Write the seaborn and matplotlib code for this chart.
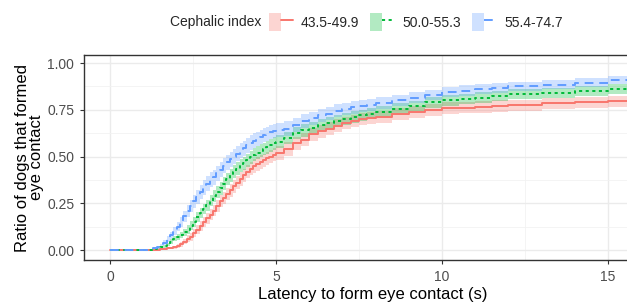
import numpy as np
import pandas as pd
import matplotlib
matplotlib.use("Agg")
import matplotlib.pyplot as plt
import seaborn as sns
from matplotlib.patches import Patch
from matplotlib.lines import Line2D
from matplotlib.legend_handler import HandlerTuple

# Data (cumulative ratio of dogs forming eye contact)
groups = ["43.5-49.9", "50.0-55.3", "55.4-74.7"]
time_s = [0, 1.0,
          1.3, 1.4, 1.5, 1.6, 1.7, 1.8, 1.9, 2.0,
          2.1, 2.2, 2.3, 2.4, 2.5, 2.6, 2.7, 2.8, 2.9, 3.0,
          3.1, 3.2, 3.3, 3.4, 3.5, 3.6, 3.7, 3.8, 3.9, 4.0,
          4.1, 4.2, 4.3, 4.4, 4.5, 4.6, 4.7, 4.8, 4.9, 5.0,
          5.25, 5.5, 5.75, 6.0, 6.25, 6.5, 6.75, 7.0, 7.25, 7.5, 7.75, 8.0,
          8.5, 9.0, 9.5, 10.0, 10.5, 11.0, 11.5, 12.0,
          13.0, 14.0, 15.0, 15.8]
ratio_low = [0, 0,
             0, 0, 0.005, 0.005, 0.01, 0.01, 0.015, 0.02,
             0.03, 0.045, 0.06, 0.07, 0.09, 0.11, 0.13, 0.15, 0.17, 0.19,
             0.21, 0.235, 0.26, 0.28, 0.30, 0.32, 0.34, 0.36, 0.38, 0.40,
             0.42, 0.435, 0.45, 0.46, 0.47, 0.48, 0.49, 0.50, 0.51, 0.52,
             0.54, 0.57, 0.59, 0.62, 0.635, 0.65, 0.665, 0.68, 0.69, 0.70, 0.705, 0.71,
             0.73, 0.74, 0.75, 0.76, 0.762, 0.765, 0.77, 0.775,
             0.785, 0.79, 0.795, 0.81]
ratio_mid = [0, 0,
             0.005, 0.01, 0.015, 0.02, 0.03, 0.045, 0.06, 0.07,
             0.08, 0.095, 0.11, 0.13, 0.15, 0.175, 0.20, 0.22, 0.24, 0.265,
             0.29, 0.31, 0.33, 0.355, 0.38, 0.40, 0.42, 0.435, 0.45, 0.465,
             0.48, 0.495, 0.51, 0.52, 0.53, 0.54, 0.55, 0.56, 0.57, 0.58,
             0.60, 0.625, 0.64, 0.655, 0.67, 0.68, 0.69, 0.70, 0.71, 0.72, 0.73, 0.74,
             0.755, 0.77, 0.79, 0.80, 0.808, 0.815, 0.825, 0.835,
             0.84, 0.85, 0.86, 0.865]
ratio_high = [0, 0,
              0.01, 0.015, 0.025, 0.04, 0.06, 0.08, 0.10, 0.125,
              0.15, 0.18, 0.21, 0.235, 0.26, 0.285, 0.31, 0.335, 0.355, 0.375,
              0.39, 0.41, 0.43, 0.45, 0.47, 0.485, 0.50, 0.515, 0.53, 0.545,
              0.56, 0.575, 0.585, 0.595, 0.605, 0.615, 0.62, 0.63, 0.635, 0.64,
              0.65, 0.67, 0.69, 0.705, 0.72, 0.73, 0.745, 0.755, 0.763, 0.77, 0.778, 0.785,
              0.80, 0.815, 0.83, 0.845, 0.853, 0.86, 0.868, 0.875,
              0.885, 0.895, 0.91, 0.915]
# half-width of the confidence band
ci_low = [0, 0,
          0, 0, 0.003, 0.003, 0.005, 0.005, 0.008, 0.01,
          0.012, 0.015, 0.018, 0.02, 0.022, 0.024, 0.026, 0.027, 0.028, 0.029,
          0.03, 0.031, 0.032, 0.033, 0.034, 0.034, 0.035, 0.035, 0.036, 0.036,
          0.036, 0.036, 0.036, 0.036, 0.036, 0.036, 0.036, 0.036, 0.036, 0.036,
          0.036, 0.035, 0.035, 0.035, 0.035, 0.034, 0.034, 0.034, 0.034, 0.033, 0.033, 0.033,
          0.032, 0.032, 0.031, 0.031, 0.031, 0.03, 0.03, 0.03,
          0.03, 0.03, 0.03, 0.03]
ci_mid = [0, 0,
          0.003, 0.004, 0.006, 0.008, 0.01, 0.012, 0.014, 0.016,
          0.018, 0.02, 0.022, 0.024, 0.025, 0.026, 0.027, 0.028, 0.03, 0.031,
          0.032, 0.033, 0.033, 0.034, 0.034, 0.035, 0.035, 0.035, 0.035, 0.035,
          0.035, 0.035, 0.035, 0.035, 0.035, 0.034, 0.034, 0.034, 0.034, 0.034,
          0.034, 0.033, 0.033, 0.032, 0.032, 0.032, 0.031, 0.031, 0.031, 0.031, 0.03, 0.03,
          0.03, 0.029, 0.029, 0.028, 0.028, 0.028, 0.027, 0.027,
          0.027, 0.026, 0.026, 0.026]
ci_high = [0, 0,
           0.005, 0.007, 0.01, 0.013, 0.016, 0.019, 0.022, 0.025,
           0.027, 0.03, 0.032, 0.034, 0.035, 0.036, 0.037, 0.038, 0.039, 0.04,
           0.04, 0.04, 0.04, 0.04, 0.04, 0.04, 0.04, 0.04, 0.04, 0.04,
           0.04, 0.04, 0.039, 0.039, 0.039, 0.039, 0.038, 0.038, 0.038, 0.038,
           0.038, 0.037, 0.036, 0.035, 0.035, 0.034, 0.034, 0.033, 0.033, 0.032, 0.032, 0.031,
           0.03, 0.029, 0.028, 0.027, 0.027, 0.026, 0.026, 0.025,
           0.024, 0.023, 0.022, 0.022]

colors = {"43.5-49.9": "#F8766D", "50.0-55.3": "#00BA38", "55.4-74.7": "#619CFF"}
dashes = {"43.5-49.9": "", "50.0-55.3": (1.6, 1.8), "55.4-74.7": (4.5, 3)}

df = pd.concat([
    pd.DataFrame({"time": time_s, "ratio": r, "ci": c, "group": g})
    for g, r, c in zip(groups, [ratio_low, ratio_mid, ratio_high], [ci_low, ci_mid, ci_high])
])

sns.set_theme(style="white")
plt.rcParams["font.family"] = ["Liberation Sans", "DejaVu Sans"]

fig = plt.figure(figsize=(6.27, 3.03), dpi=100)
ax = fig.add_axes([84 / 627, 1 - 260 / 303, 577 / 627, 205 / 303])

for g in groups:
    d = df[df["group"] == g]
    ax.fill_between(d["time"], d["ratio"] - d["ci"], d["ratio"] + d["ci"],
                    step="post", color=colors[g], alpha=0.3, linewidth=0)

sns.lineplot(data=df, x="time", y="ratio", hue="group", style="group",
             palette=colors, dashes=dashes, drawstyle="steps-post",
             linewidth=1.4, legend=False, ax=ax, zorder=3)

ax.set_xlim(-0.79, 16.6)
ax.set_ylim(-0.053, 1.043)
ax.set_xticks([0, 5, 10, 15])
ax.set_xticks([2.5, 7.5, 12.5], minor=True)
ax.set_yticks([0, 0.25, 0.5, 0.75, 1.0])
ax.set_yticklabels(["0.00", "0.25", "0.50", "0.75", "1.00"])
ax.set_yticks([0.125, 0.375, 0.625, 0.875], minor=True)
ax.grid(which="major", color="#EBEBEB", linewidth=1.0)
ax.grid(which="minor", color="#F2F2F2", linewidth=0.6)
ax.set_axisbelow(True)
for s in ax.spines.values():
    s.set_color("#333333")
    s.set_linewidth(1.0)
ax.tick_params(axis="both", which="major", length=3, width=0.8, color="#333333",
               labelcolor="#4D4D4D", labelsize=10, pad=4, bottom=True, left=True)
ax.tick_params(which="minor", length=0)
ax.set_xlabel("Latency to form eye contact (s)", fontsize=12, color="black", labelpad=2)
ax.set_ylabel("Ratio of dogs that formed\neye contact", fontsize=12, color="black",
              labelpad=2.5, linespacing=0.9)

# legend on top, ggplot style
fig.text(170 / 627, 1 - 22 / 303, "Cephalic index", fontsize=10, va="center", ha="left")
handles = []
for g in groups:
    handles.append((Patch(facecolor=colors[g], alpha=0.3, edgecolor="none"),
                    Line2D([], [], color=colors[g], linewidth=1.4,
                           linestyle=(0, dashes[g]) if dashes[g] else "-")))
fig.legend(handles, groups, handler_map={tuple: HandlerTuple(ndivide=None, pad=0)},
           loc="center left", bbox_to_anchor=(262 / 627, 1 - 22 / 303), ncol=3,
           frameon=False, fontsize=10, handlelength=1.7, handleheight=1.6,
           columnspacing=0.8, handletextpad=0.6, borderpad=0)

fig.savefig("out.png", dpi=100)
